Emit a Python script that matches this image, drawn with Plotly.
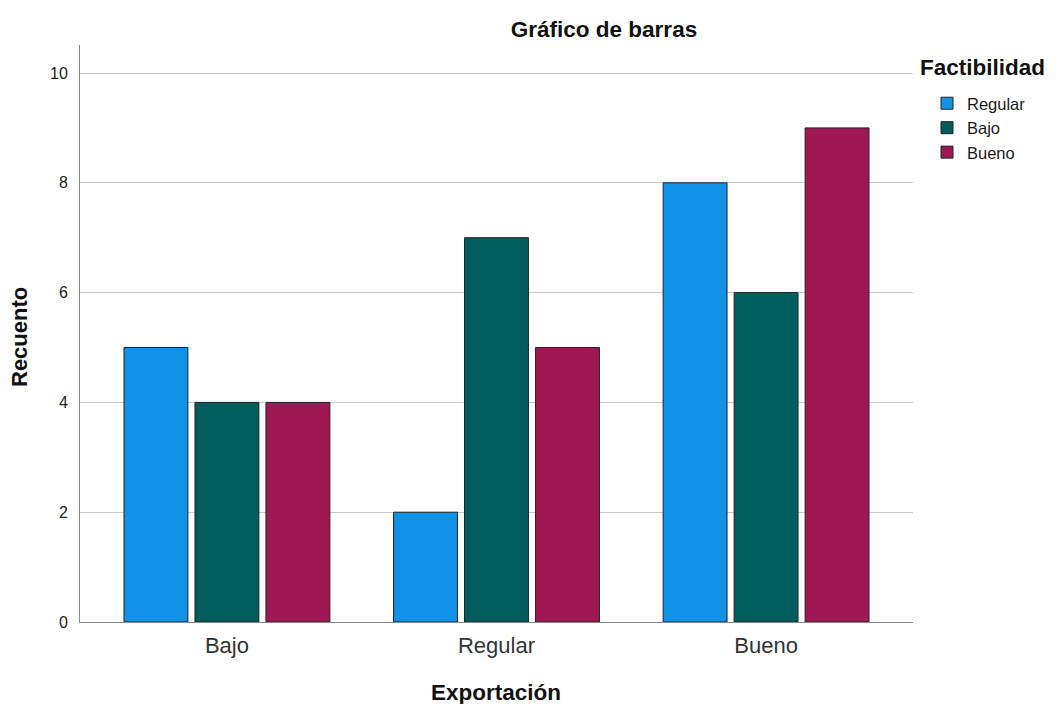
import plotly.graph_objects as go

categories = ["Bajo", "Regular", "Bueno"]
series_names = ["Regular", "Bajo", "Bueno"]
regular_vals = [5, 2, 8]
bajo_vals = [4, 7, 6]
bueno_vals = [4, 5, 9]
colors = ["#1192e8", "#005d5d", "#9f1853"]
y_ticks = [0, 2, 4, 6, 8, 10]

FONT = "Liberation Sans, Arial, sans-serif"

fig = go.Figure()
for name, vals, col in zip(series_names, [regular_vals, bajo_vals, bueno_vals], colors):
    fig.add_trace(go.Bar(
        name=name, x=categories, y=vals,
        marker=dict(color=col, line=dict(color="#222222", width=1)),
    ))

W, H = 1056, 704
# page body has an 8px margin; figure coordinates below compensate for it
L, R, T, B = 72, 151, 37, 90
PW = W - L - R
PH = H - T - B


def px_x(fx):
    return (fx - L) / PW


def px_y(fy):
    return (H - B - fy) / PH


fig.update_layout(
    width=W, height=H,
    margin=dict(l=L, r=R, t=T, b=B),
    paper_bgcolor="white", plot_bgcolor="white",
    barmode="group", bargap=0.21, bargroupgap=0.1,
    font=dict(family=FONT, color="#222222"),
    title=dict(text="<b>Gráfico de barras</b>", x=596 / W, xanchor="center",
               y=1 - 21 / H, yanchor="middle", font=dict(size=22.5, color="#111111")),
    legend=dict(
        x=px_x(919), xanchor="left",
        y=px_y(78), yanchor="top",
        font=dict(size=16.5, color="#1a1a1a"),
        itemwidth=30, tracegroupgap=0,
        bgcolor="rgba(0,0,0,0)",
    ),
    xaxis=dict(
        range=[-0.545, 2.545], showline=True, linecolor="#888888", linewidth=1,
        ticks="", tickfont=dict(size=22, color="#333333"), showgrid=False,
        ticklabelstandoff=4,
    ),
    yaxis=dict(
        range=[0, 10.51], tickvals=y_ticks, showline=True, linecolor="#888888", linewidth=1,
        ticks="", tickfont=dict(size=16, color="#222222"), ticklabelstandoff=8,
        showgrid=True, gridcolor="#c8c8c8", gridwidth=1, zeroline=False,
    ),
    annotations=[
        dict(text="<b>Factibilidad</b>", xref="paper", yref="paper",
             x=px_x(910), y=px_y(59), xanchor="left", yanchor="middle",
             showarrow=False, font=dict(size=22.5, color="#111111")),
        dict(text="<b>Exportación</b>", xref="paper", yref="paper",
             x=px_x(488), y=px_y(684), xanchor="center", yanchor="middle",
             showarrow=False, font=dict(size=22.5, color="#111111")),
        dict(text="<b>Recuento</b>", xref="paper", yref="paper",
             x=px_x(12), y=px_y(329), xanchor="center", yanchor="middle",
             textangle=-90, showarrow=False, font=dict(size=22, color="#111111")),
    ],
)

fig.write_html("out.html")
